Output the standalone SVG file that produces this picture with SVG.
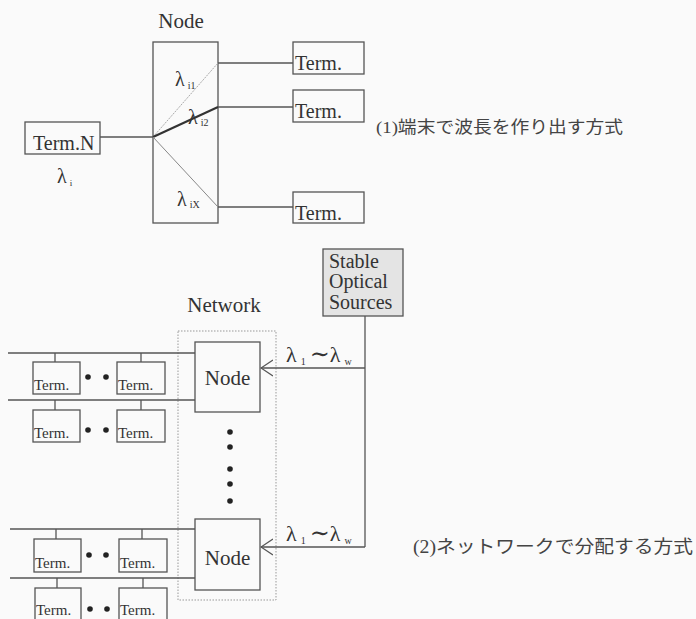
<svg xmlns="http://www.w3.org/2000/svg" width="696" height="619" viewBox="0 0 696 619">
<style>
.bg{fill:#fafafa}
.box{fill:none;stroke:#555;stroke-width:1.3}
.ln{fill:none;stroke:#555;stroke-width:1.3}
.t{font-family:"Liberation Serif","DejaVu Serif",serif;fill:#333}
.j{font-family:"Liberation Serif","Noto Sans CJK JP",serif;fill:#444}
.dot{fill:#222}
</style>
<defs>
<marker id="open" viewBox="0 0 13 18" refX="12" refY="9" markerWidth="13" markerHeight="18" markerUnits="userSpaceOnUse" orient="auto">
<path d="M0,1 L12,9 L0,17" fill="none" stroke="#555" stroke-width="1.3"/>
</marker>
</defs>
<rect class="bg" x="0" y="0" width="696" height="619"/>

<!-- Top section -->
<g id="node-top">
<text class="t" x="181" y="28" font-size="21" text-anchor="middle">Node</text>
<rect class="box" x="153" y="42" width="65" height="181"/>
</g>
<g id="term-n">
<rect class="box" x="25" y="122" width="75" height="32"/>
<text class="t" x="33" y="150" font-size="20">Term.N</text>
<text class="t" x="57" y="183" font-size="20">λ<tspan font-size="9" dx="3" dy="3">i</tspan></text>
</g>
<g id="term-1">
<rect class="box" x="293" y="42" width="71" height="32"/>
<text class="t" x="295" y="70" font-size="20">Term.</text>
</g>
<g id="term-2">
<rect class="box" x="293" y="90" width="71" height="32"/>
<text class="t" x="295" y="118" font-size="20">Term.</text>
</g>
<g id="term-3">
<rect class="box" x="293" y="192" width="71" height="31"/>
<text class="t" x="295" y="220" font-size="20">Term.</text>
</g>
<g id="connectors-top">
<line class="ln" x1="100" y1="137" x2="153" y2="137"/>
<line x1="153" y1="137" x2="218" y2="63" stroke="#aaa" stroke-width="1" stroke-dasharray="2 1"/>
<line x1="153" y1="137" x2="218" y2="107" stroke="#333" stroke-width="2.2"/>
<line x1="153" y1="137" x2="218" y2="207" stroke="#888" stroke-width="1"/>
<line class="ln" x1="218" y1="63" x2="293" y2="63"/>
<line class="ln" x1="218" y1="107" x2="293" y2="107"/>
<line class="ln" x1="218" y1="207" x2="293" y2="207"/>
</g>
<g id="lambda-top">
<text class="t" x="175" y="86" font-size="20">λ<tspan font-size="10" dx="3" dy="3">i1</tspan></text>
<text class="t" x="188" y="124" font-size="20">λ<tspan font-size="10" dx="3" dy="2">i2</tspan></text>
<text class="t" x="177" y="206" font-size="20">λ<tspan font-size="10" dx="3" dy="2">iX</tspan></text>
</g>
<text class="j" x="376" y="133" font-size="17" textLength="247" lengthAdjust="spacingAndGlyphs">(1)端末で波長を作り出す方式</text>

<!-- Bottom section -->
<g id="sources">
<rect x="323" y="249" width="80" height="67" fill="#e4e4e4" stroke="#555" stroke-width="1.3"/>
<text class="t" x="329" y="268" font-size="20">Stable</text>
<text class="t" x="329" y="288" font-size="20">Optical</text>
<text class="t" x="329" y="309" font-size="20">Sources</text>
</g>
<g id="network">
<text class="t" x="224" y="312" font-size="21" text-anchor="middle">Network</text>
<rect x="178" y="331" width="98" height="269" fill="none" stroke="#999" stroke-width="1" stroke-dasharray="1.5 1.5"/>
<circle class="dot" cx="230" cy="432" r="2.8"/>
<circle class="dot" cx="230" cy="447" r="2.8"/>
<circle class="dot" cx="230" cy="469" r="2.8"/>
<circle class="dot" cx="230" cy="484" r="2.8"/>
<circle class="dot" cx="230" cy="501" r="2.8"/>
</g>
<g id="node-upper">
<rect class="box" x="195" y="342" width="65" height="70"/>
<text class="t" x="227.5" y="385" font-size="21" text-anchor="middle">Node</text>
</g>
<g id="node-lower">
<rect class="box" x="195" y="519" width="65" height="71"/>
<text class="t" x="227.5" y="565" font-size="21" text-anchor="middle">Node</text>
</g>

<g id="terms-row1">
<rect class="box" x="33" y="362" width="47" height="32"/>
<text class="t" x="34" y="390" font-size="15">Term.</text>
<rect class="box" x="117" y="362" width="48" height="32"/>
<text class="t" x="118" y="390" font-size="15">Term.</text>
<circle class="dot" cx="88" cy="377" r="2.8"/>
<circle class="dot" cx="106" cy="377" r="2.8"/>
</g>
<g id="terms-row2">
<rect class="box" x="33" y="410" width="47" height="32"/>
<text class="t" x="34" y="438" font-size="15">Term.</text>
<rect class="box" x="117" y="410" width="48" height="32"/>
<text class="t" x="118" y="438" font-size="15">Term.</text>
<circle class="dot" cx="88" cy="430" r="2.8"/>
<circle class="dot" cx="106" cy="430" r="2.8"/>
</g>
<g id="terms-row3">
<rect class="box" x="34" y="539" width="47" height="33"/>
<text class="t" x="35" y="568" font-size="15">Term.</text>
<rect class="box" x="119" y="539" width="48" height="33"/>
<text class="t" x="120" y="568" font-size="15">Term.</text>
<circle class="dot" cx="89" cy="555" r="2.8"/>
<circle class="dot" cx="106" cy="555" r="2.8"/>
</g>
<g id="terms-row4">
<rect class="box" x="35" y="588" width="46" height="40"/>
<text class="t" x="36" y="615" font-size="15">Term.</text>
<rect class="box" x="119" y="588" width="48" height="40"/>
<text class="t" x="120" y="615" font-size="15">Term.</text>
<circle class="dot" cx="90" cy="609" r="2.8"/>
<circle class="dot" cx="107" cy="609" r="2.8"/>
</g>

<g id="connectors-bottom">
<line class="ln" x1="8" y1="353" x2="195" y2="353"/>
<line class="ln" x1="55" y1="353" x2="55" y2="362"/>
<line class="ln" x1="141" y1="353" x2="141" y2="362"/>
<line class="ln" x1="8" y1="400" x2="195" y2="400"/>
<line class="ln" x1="55" y1="400" x2="55" y2="410"/>
<line class="ln" x1="141" y1="400" x2="141" y2="410"/>
<line class="ln" x1="10" y1="529" x2="195" y2="529"/>
<line class="ln" x1="56" y1="529" x2="56" y2="539"/>
<line class="ln" x1="142" y1="529" x2="142" y2="539"/>
<line class="ln" x1="10" y1="578" x2="195" y2="578"/>
<line class="ln" x1="57" y1="578" x2="57" y2="588"/>
<line class="ln" x1="143" y1="578" x2="143" y2="588"/>
<line class="ln" x1="365" y1="316" x2="365" y2="547"/>
<line class="ln" x1="365" y1="368" x2="261" y2="368" marker-end="url(#open)"/>
<line class="ln" x1="365" y1="547" x2="261" y2="547" marker-end="url(#open)"/>
</g>
<g id="lambda-bottom">
<text class="t" x="286" y="362" font-size="22">λ<tspan font-size="10" dx="4" dy="3">1</tspan><tspan font-size="24" dx="4" dy="-3">∼</tspan>λ<tspan font-size="10" dx="4" dy="3">w</tspan></text>
<text class="t" x="286" y="541" font-size="22">λ<tspan font-size="10" dx="4" dy="3">1</tspan><tspan font-size="24" dx="4" dy="-3">∼</tspan>λ<tspan font-size="10" dx="4" dy="3">w</tspan></text>
</g>
<text class="j" x="413" y="553" font-size="18" textLength="280" lengthAdjust="spacingAndGlyphs">(2)ネットワークで分配する方式</text>
</svg>
